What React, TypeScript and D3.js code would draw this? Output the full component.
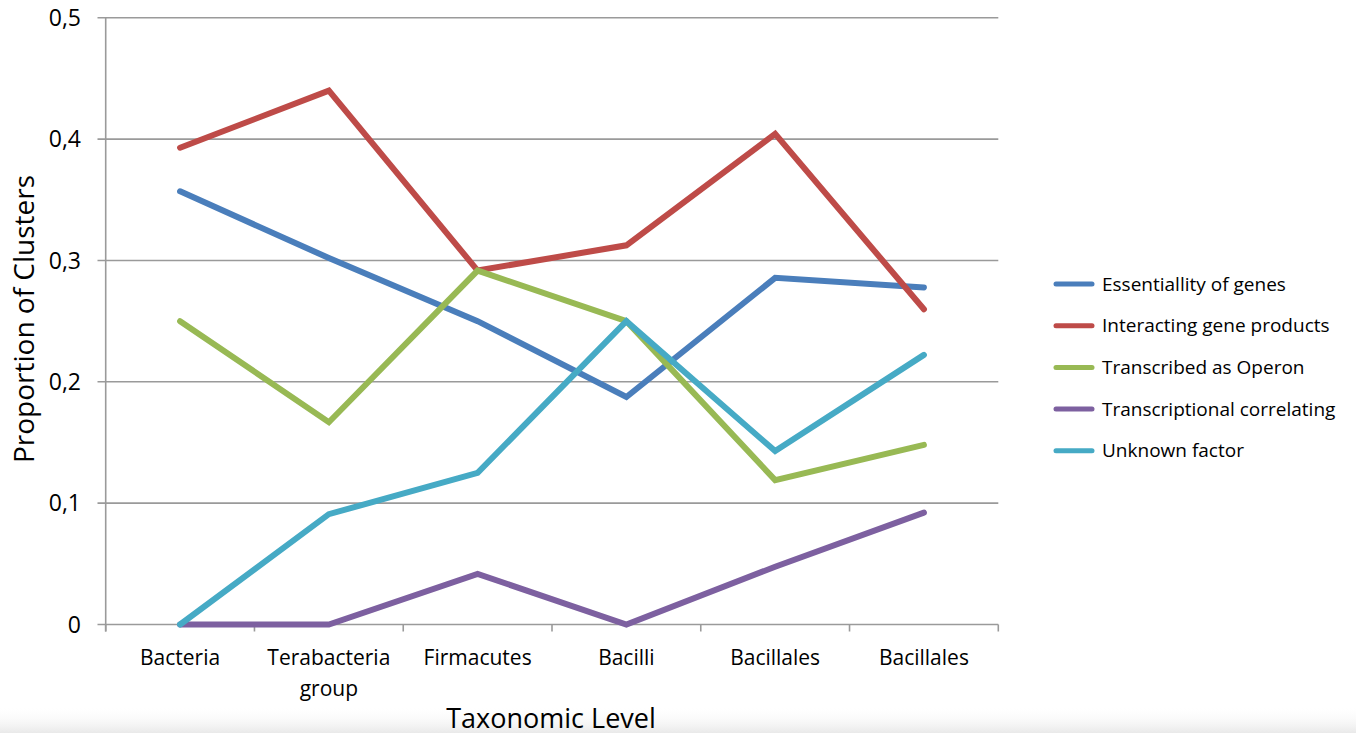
import React from "react";
import * as d3 from "d3";

const categories: string[][] = [
  ["Bacteria"],
  ["Terabacteria", "group"],
  ["Firmacutes"],
  ["Bacilli"],
  ["Bacillales"],
  ["Bacillales"],
];

const essentiality = [0.357, 0.302, 0.25, 0.1875, 0.2857, 0.2778];
const interacting = [0.3929, 0.44, 0.2917, 0.3125, 0.4044, 0.2598];
const operon = [0.25, 0.1667, 0.2917, 0.25, 0.119, 0.148];
const transcriptional = [0, 0, 0.0417, 0, 0.0476, 0.0922];
const unknown = [0, 0.0909, 0.125, 0.25, 0.1429, 0.2222];

const seriesNames = [
  "Essentiallity of genes",
  "Interacting gene products",
  "Transcribed as Operon",
  "Transcriptional correlating",
  "Unknown factor",
];
const seriesColors = ["#4A7EBB", "#BE4B48", "#98B954", "#7D60A0", "#46AAC5"];
const seriesValues = [essentiality, interacting, operon, transcriptional, unknown];

const yTicks = [0, 0.1, 0.2, 0.3, 0.4, 0.5];
const yTickLabels = ["0", "0,1", "0,2", "0,3", "0,4", "0,5"];

const W = 1356;
const H = 733;
const FONT = "'Open Sans', 'Noto Sans', sans-serif";

export default function App() {
  const x = d3
    .scaleBand<number>()
    .domain(categories.map((_, i) => i))
    .range([105.7, 998.3])
    .padding(0);
  const cx = (i: number) => (x(i) as number) + x.bandwidth() / 2;
  const y = d3.scaleLinear().domain([0, 0.5]).range([624.5, 17.8]);

  const line = d3
    .line<number>()
    .x((_, i) => cx(i))
    .y((d) => y(d));

  const tickXs = categories.map((_, i) => x(i) as number).concat([x.range()[1]]);

  return (
    <svg
      width={W}
      height={H}
      style={{ position: "absolute", left: 0, top: 0, display: "block" }}
    >
      <defs>
        <linearGradient id="shade" x1="0" y1="0" x2="0" y2="1">
          <stop offset="0" stopColor="#ffffff" stopOpacity="0" />
          <stop offset="1" stopColor="#e9e9e9" stopOpacity="1" />
        </linearGradient>
      </defs>
      <rect width={W} height={H} fill="#ffffff" />
      <rect x={0} y={706} width={W} height={27} fill="url(#shade)" />

      {/* gridlines */}
      {yTicks.map((t, i) => (
        <line
          key={"g" + i}
          x1={97.5}
          x2={998.3}
          y1={y(t)}
          y2={y(t)}
          stroke="#9a9a9a"
          strokeWidth={1.6}
        />
      ))}
      {/* y axis line */}
      <line x1={105.7} x2={105.7} y1={y(0.5)} y2={y(0) + 7} stroke="#9a9a9a" strokeWidth={1.6} />
      {/* x ticks */}
      {tickXs.map((tx, i) => (
        <line
          key={"xt" + i}
          x1={tx}
          x2={tx}
          y1={y(0)}
          y2={y(0) + 7}
          stroke="#9a9a9a"
          strokeWidth={1.6}
        />
      ))}

      {/* y tick labels */}
      {yTicks.map((t, i) => (
        <text
          key={"yl" + i}
          x={81}
          y={y(t)}
          dy="0.36em"
          textAnchor="end"
          fontFamily={FONT}
          fontSize={23}
          fill="#000"
        >
          {yTickLabels[i]}
        </text>
      ))}

      {/* x labels */}
      {categories.map((lines, i) => (
        <text
          key={"xl" + i}
          x={cx(i)}
          y={665}
          textAnchor="middle"
          fontFamily={FONT}
          fontSize={21}
          fill="#000"
        >
          {lines.map((l, j) => (
            <tspan key={j} x={cx(i)} dy={j === 0 ? 0 : 31}>
              {l}
            </tspan>
          ))}
        </text>
      ))}

      {/* series */}
      {seriesValues.map((vals, s) => (
        <path
          key={"s" + s}
          d={line(vals) as string}
          fill="none"
          stroke={seriesColors[s]}
          strokeWidth={6}
          strokeLinecap="round"
          strokeLinejoin="miter"
        />
      ))}

      {/* axis titles */}
      <text
        transform={`translate(34, 319) rotate(-90)`}
        textAnchor="middle"
        fontFamily={FONT}
        fontSize={28}
        fill="#000"
      >
        Proportion of Clusters
      </text>
      <text
        x={551}
        y={728}
        textAnchor="middle"
        fontFamily={FONT}
        fontSize={27}
        fill="#000"
      >
        Taxonomic Level
      </text>

      {/* legend */}
      {seriesNames.map((name, i) => {
        const ly = 284 + i * 41.7;
        return (
          <g key={"lg" + i}>
            <line
              x1={1056}
              x2={1092}
              y1={ly}
              y2={ly}
              stroke={seriesColors[i]}
              strokeWidth={5}
              strokeLinecap="round"
            />
            <text
              x={1102}
              y={ly}
              dy="0.35em"
              fontFamily={FONT}
              fontSize={19}
              fill="#000"
            >
              {name}
            </text>
          </g>
        );
      })}
    </svg>
  );
}
